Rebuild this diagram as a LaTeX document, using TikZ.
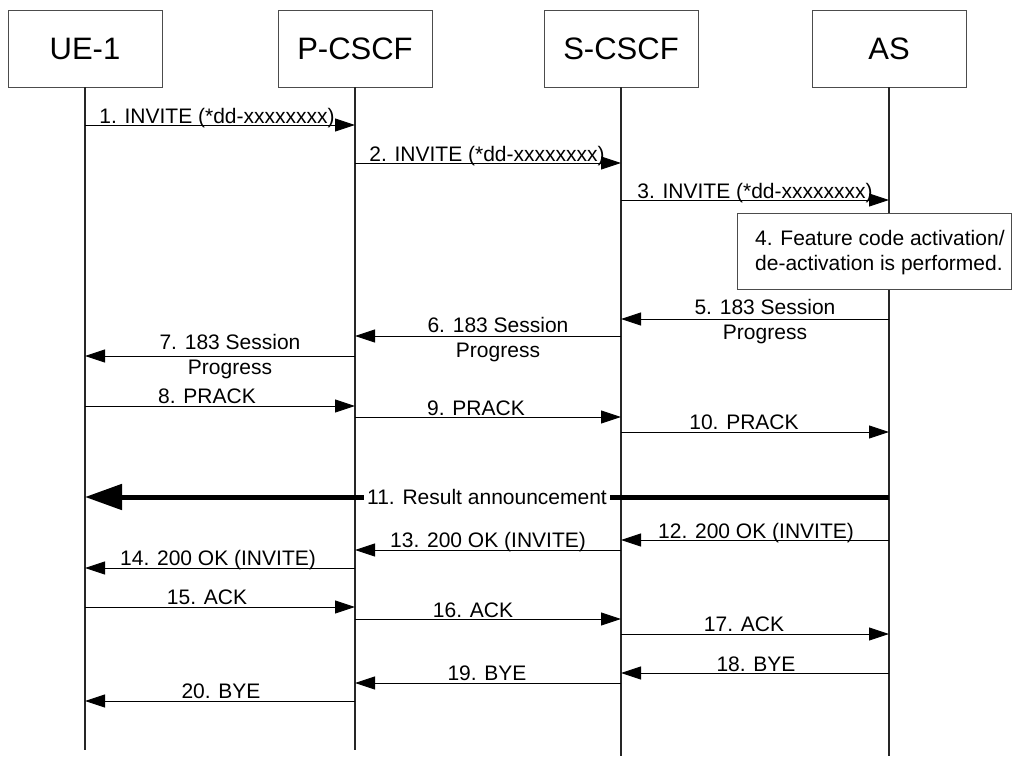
\documentclass[tikz,border=0pt]{standalone}
\usepackage{fontspec}
\setmainfont{Liberation Sans}
\usetikzlibrary{arrows.meta, positioning}

\begin{document}
\begin{tikzpicture}[
    x=1pt, y=-1pt,   % one unit per pixel, y grows downwards
    entity/.style={draw=black!70, line width=0.8pt, minimum width=154pt,
        minimum height=77pt, font=\fontsize{31}{36}\selectfont},
    lifeline/.style={line width=1.4pt, black!85},
    msg/.style={line width=0.9pt, -{Triangle[length=20pt, width=13pt]}},
    bigmsg/.style={line width=5pt, -{Triangle[length=37pt, width=25pt]}},
    lbl/.style={font=\fontsize{21}{25}\selectfont, inner sep=0pt},
    notebox/.style={draw=black!70, line width=0.8pt}
]
    \useasboundingbox (0,0) rectangle (1013,756);

    % --- Entities ---
    \node[entity] (ue)    at (85,48.5)  {UE-1};
    \node[entity] (pcscf) at (355,48.5) {P-CSCF};
    \node[entity] (scscf) at (621,48.5) {S-CSCF};
    \node[entity] (as)    at (889,48.5) {AS};

    % --- Lifelines ---
    \coordinate (ue-end)    at (85,750);
    \coordinate (pcscf-end) at (355,750);
    \coordinate (scscf-end) at (621,756);
    \coordinate (as-end)    at (889,756);
    \foreach \e in {ue, pcscf, scscf, as}
        \draw[lifeline] (\e.south) -- (\e-end);

    % --- Step 4: box at the AS ---
    % (base of a two-line node is the baseline of its last line)
    \draw[notebox, fill=white] (737,213) rectangle (1011,289);
    \node[lbl, anchor=base west, align=left] (feat) at (755,270)
        {4. Feature code activation/\\de-activation is performed.};

    % --- One-line messages: y / from / to / label x / label baseline / text ---
    \foreach \y/\a/\b/\lx/\ly/\txt in {
        125/ue/pcscf/217/123/{1. INVITE (*dd-xxxxxxxx)},
        163/pcscf/scscf/487/161/{2. INVITE (*dd-xxxxxxxx)},
        200/scscf/as/755/198/{3. INVITE (*dd-xxxxxxxx)},
        406/ue/pcscf/207/403/{8. PRACK},
        417/pcscf/scscf/476/415/{9. PRACK},
        432/scscf/as/744/429/{10. PRACK},
        540/as/scscf/756/538/{12. 200 OK (INVITE)},
        550/scscf/pcscf/488/547/{13. 200 OK (INVITE)},
        568/pcscf/ue/218/565/{14. 200 OK (INVITE)},
        607/ue/pcscf/207/604/{15. ACK},
        619/pcscf/scscf/473/617/{16. ACK},
        634/scscf/as/744/631/{17. ACK},
        673/as/scscf/756/671/{18. BYE},
        683/scscf/pcscf/487/680/{19. BYE},
        701/pcscf/ue/221/698/{20. BYE}} {
        \draw[msg] (\a |- 0,\y) -- (\b |- 0,\y);
        \node[lbl, anchor=base] at (\lx,\ly) {\txt};
    }

    % --- 183 Session Progress (two lines) ---
    \draw[msg] (as |- 0,319) -- (scscf |- 0,319);
    \node[lbl, anchor=base, align=center] (prog5) at (765,339) {5. 183 Session\\Progress};
    \draw[msg] (scscf |- 0,336) -- (pcscf |- 0,336);
    \node[lbl, anchor=base, align=center] (prog6) at (498,357) {6. 183 Session\\Progress};
    \draw[msg] (pcscf |- 0,356) -- (ue |- 0,356);
    \node[lbl, anchor=base, align=center] (prog7) at (230,374) {7. 183 Session\\Progress};

    % --- Result announcement ---
    \draw[bigmsg] (as |- 0,497) -- (ue |- 0,497);
    \node[lbl, fill=white, inner xsep=3pt, inner ysep=1pt] (annc) at (487,497)
        {11. Result announcement};
\end{tikzpicture}
\end{document}
